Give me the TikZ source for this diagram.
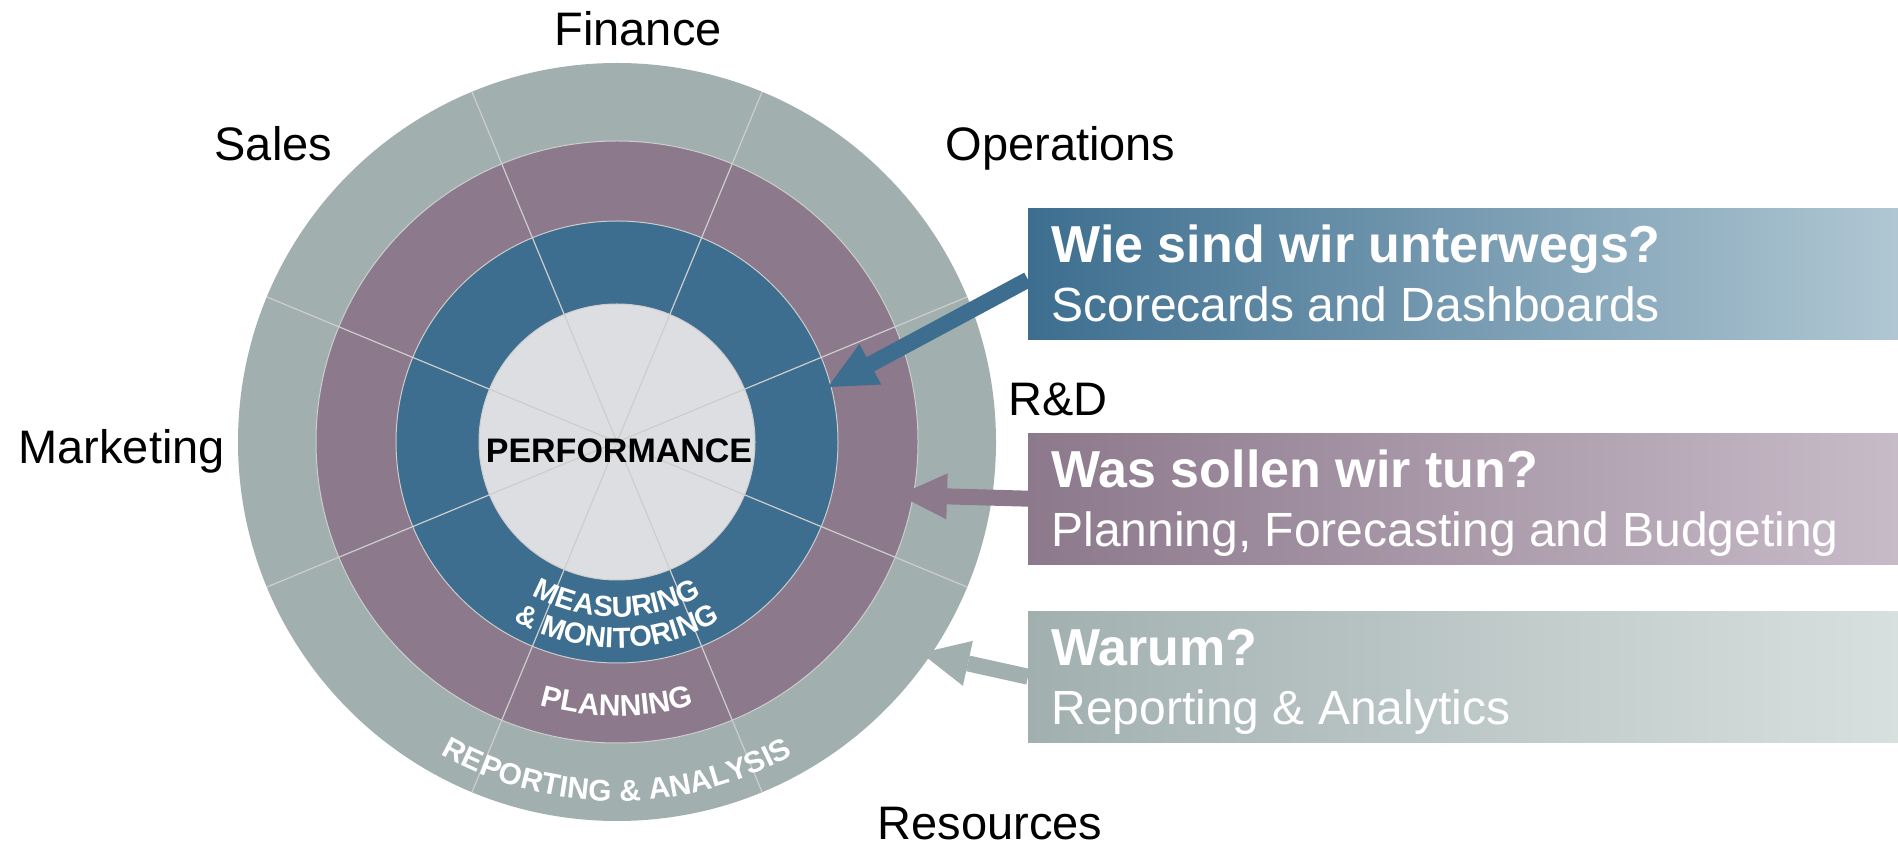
\documentclass[tikz,border=0pt]{standalone}
\usepackage{fontspec}
\setmainfont{Liberation Sans}
\usetikzlibrary{arrows.meta,decorations.text}

\definecolor{rgray}{RGB}{161,176,175}
\definecolor{rpurple}{RGB}{140,121,140}
\definecolor{rblue}{RGB}{61,110,143}
\definecolor{rcore}{RGB}{221,222,226}
\definecolor{rline}{RGB}{205,205,205}
\definecolor{lblue}{RGB}{176,199,211}
\definecolor{lpurple}{RGB}{200,187,200}
\definecolor{lgray}{RGB}{216,224,223}

\newcommand{\measfont}{\fontsize{29}{29}\selectfont\bfseries}
\newcommand{\planfont}{\fontsize{30}{30}\selectfont\bfseries}
\newcommand{\repfont}{\fontsize{30}{30}\selectfont\bfseries}

\tikzset{
	secname/.style={anchor=base west, font=\fontsize{47}{56}\selectfont},
	infobox/.style={anchor=north west, inner sep=0pt, minimum width=870pt, minimum height=131pt},
	boxtitle/.style={anchor=base west, text=white, font=\fontsize{52}{60}\selectfont\bfseries},
	boxsub/.style={anchor=base west, text=white, font=\fontsize{48}{56}\selectfont},
	pointer/.style={line width=16pt, -{Triangle[length=48pt,width=46pt,line width=0pt]}},
	ringtext/.style={decorate, decoration={text along path, text align=center, text color=white}}
}

\begin{document}
\begin{tikzpicture}[x=1pt,y=1pt]
\useasboundingbox (0,0) rectangle (1898,846);
\coordinate (c) at (617,404);

% rings
\fill[rgray] (c) circle (379);
\fill[rpurple] (c) circle (301);
\fill[rblue] (c) circle (221);
\fill[rcore] (c) circle (138);

\foreach \r in {301,221,138}{
	\draw[rline, line width=1] (c) circle (\r);
}

\foreach \a in {22.5,67.5,...,337.5}{
	\draw[rline, line width=1.2] (c) -- ++(\a:379);
}

\node[font=\fontsize{34}{34}\selectfont\bfseries, anchor=base] (perf) at (619,383) {PERFORMANCE};

% texts on the rings
\path[ringtext, decoration={text={|\measfont|MEASURING}}]
	([shift={(235:175)}]c) arc[start angle=235, end angle=305, radius=175];
\path[ringtext, decoration={text={|\measfont|{\&} MONITORING}}]
	([shift={(235:206)}]c) arc[start angle=235, end angle=305, radius=206];
\path[ringtext, decoration={text={|\planfont|PLANNING}}]
	([shift={(235:274)}]c) arc[start angle=235, end angle=305, radius=274];
\path[ringtext, decoration={text={|\repfont|REPORTING {\&} ANALYSIS}}]
	([shift={(235:359)}]c) arc[start angle=235, end angle=305, radius=359];

% sectors
\node[secname] (fin) at (551,800) {Finance};
\node[secname] (sal) at (211,685) {Sales};
\node[secname] (ope) at (942,685) {Operations};
\node[secname] (mkt) at (15,382) {Marketing};
\node[secname] (rnd) at (1005,430) {R\&D};
\node[secname] (res) at (874,7) {Resources};

% boxes
\node[infobox, left color=rblue, right color=lblue] (wie) at (1028,638) {};
\node[infobox, left color=rpurple, right color=lpurple] (was) at (1028,413) {};
\node[infobox, left color=rgray, right color=lgray] (warum) at (1028,235) {};

\node[boxtitle] (wie1) at ([xshift=20pt,yshift=-55pt]wie.north west) {Wie sind wir unterwegs?};
\node[boxsub] (wie2) at ([xshift=20pt,yshift=-114pt]wie.north west) {Scorecards and Dashboards};
\node[boxtitle] (was1) at ([xshift=20pt,yshift=-55pt]was.north west) {Was sollen wir tun?};
\node[boxsub] (was2) at ([xshift=20pt,yshift=-114pt]was.north west) {Planning, Forecasting and Budgeting};
\node[boxtitle] (warum1) at ([xshift=20pt,yshift=-55pt]warum.north west) {Warum?};
\node[boxsub] (warum2) at ([xshift=20pt,yshift=-114pt]warum.north west) {Reporting \& Analytics};

% arrows
\coordinate (tipa) at (828,459);
\coordinate (tipb) at (899,351);
\coordinate (tipc) at (921,193);
\draw[pointer, rblue] ([yshift=-6pt]wie.west) -- (tipa);
\draw[pointer, rpurple] (was.west) -- (tipb);
\draw[pointer, rgray] (warum.west) -- (tipc);

\end{tikzpicture}
\end{document}
